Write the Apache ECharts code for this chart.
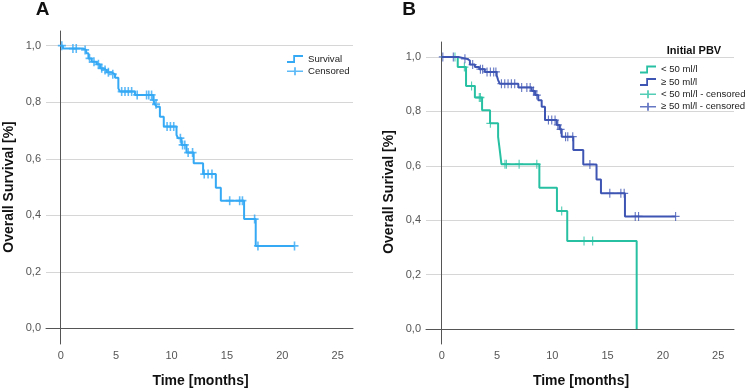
<!DOCTYPE html>
<html>
<head>
<meta charset="utf-8">
<script src="https://cdn.jsdelivr.net/npm/echarts@6/dist/echarts.min.js"></script>
<style>
  html, body { margin: 0; padding: 0; background: #fff; }
  #main { width: 749px; height: 391px; }
</style>
</head>
<body>
<div id="main"></div>
<script>
// panel A - whole cohort (time in months, survival after each step)
var aTime = [0, 0.2, 2.0, 2.3, 2.5, 2.8, 3.25, 3.55, 3.85, 4.15, 4.6, 4.9, 5.2, 5.35, 6.7, 8.35, 8.5, 8.65, 8.95, 9.3, 10.45, 10.6, 10.9, 11.35, 12.0, 12.85, 14.0, 14.45, 16.55, 17.6];
var aSurv = [1.0, 0.99, 0.985, 0.973, 0.955, 0.943, 0.934, 0.92, 0.914, 0.906, 0.899, 0.887, 0.849, 0.838, 0.826, 0.808, 0.793, 0.784, 0.749, 0.714, 0.684, 0.673, 0.649, 0.622, 0.584, 0.546, 0.498, 0.452, 0.387, 0.292];
var aEnd = 21.1;
var aCensor = [0.1, 1.1, 1.4, 2.2, 2.6, 3.0, 3.4, 3.7, 4.0, 4.3, 4.7, 5.5, 5.8, 6.1, 6.4, 6.9, 7.75, 7.95, 8.2, 8.4, 8.6, 9.6, 9.9, 10.2, 10.8, 11.0, 11.2, 11.5, 11.9, 12.95, 13.3, 13.65, 15.25, 16.15, 16.4, 17.5, 17.8, 21.1];

// panel B - initial PBV < 50 ml/l
var lowTime = [0, 1.45, 2.2, 3.0, 3.65, 4.37, 5.1, 5.25, 5.4, 8.83, 10.42, 11.35, 17.63];
var lowSurv = [1.0, 0.963, 0.893, 0.851, 0.804, 0.756, 0.706, 0.658, 0.606, 0.519, 0.434, 0.324, 0];
var lowEnd = 17.63;
var lowCensor = [1.2, 2.05, 2.7, 3.4, 3.5, 4.4, 5.72, 5.85, 7.0, 8.6, 10.85, 12.87, 13.65];

// panel B - initial PBV >= 50 ml/l
var highTime = [0, 1.5, 2.3, 2.55, 3.0, 3.4, 3.9, 4.97, 5.1, 5.25, 6.93, 8.14, 8.44, 8.73, 9.04, 9.34, 10.4, 10.65, 10.85, 11.9, 12.8, 14.0, 14.4, 16.57];
var highSurv = [1.0, 0.993, 0.987, 0.972, 0.963, 0.955, 0.945, 0.933, 0.915, 0.902, 0.888, 0.875, 0.86, 0.841, 0.817, 0.768, 0.75, 0.734, 0.707, 0.658, 0.605, 0.55, 0.499, 0.414];
var highEnd = 21.15;
var highCensor = [0.1, 1.05, 2.1, 2.8, 3.5, 3.7, 4.1, 4.4, 4.7, 4.9, 5.4, 5.7, 6.0, 6.3, 6.6, 7.23, 7.7, 8.0, 8.3, 8.6, 9.65, 9.95, 10.25, 10.5, 10.75, 11.2, 11.4, 11.85, 13.4, 15.2, 16.2, 16.5, 17.5, 17.8, 21.15];

var xTicks = [0, 5, 10, 15, 20, 25];
var yTicks = [0, 0.2, 0.4, 0.6, 0.8, 1.0];

var colA = '#36a9f5';
var colLow = '#28c0a3';
var colHigh = '#3e55b3';

// step line points, last point just extends the line
function stepData(times, surv, end) {
  var d = times.map(function(t, i) { return [t, surv[i]]; });
  d.push([end, surv[surv.length - 1]]);
  return d;
}
// put the censor marks on the curve
function censorData(times, surv, cens) {
  return cens.map(function(c) {
    var v = surv[0];
    for (var i = 0; i < times.length; i++) {
      if (times[i] <= c) v = surv[i];
    }
    return [c, v];
  });
}

var plusThick = 'path://M4,0H6V10H4ZM0,4H10V6H0Z';
var plusThin = 'path://M4.3,0H5.7V10H4.3ZM0,4.3H10V5.7H0Z';
var stepIcon = 'path://M0,6H7V0H18V2H9V8H0Z';
var censIcon = 'path://M0,4H8V0H10V4H18V6H10V10H8V6H0Z';

function xAxisCfg(idx, min, max) {
  return {
    type: 'value', gridIndex: idx, min: min, max: max,
    axisLine: { show: true, lineStyle: { color: '#555', width: 1 } },
    axisTick: { show: false, customValues: xTicks },
    axisLabel: { customValues: xTicks, color: '#555', fontSize: 11, margin: 6, fontFamily: 'Liberation Sans' },
    splitLine: { show: false }
  };
}
function yAxisCfg(idx, min, max) {
  return {
    type: 'value', gridIndex: idx, min: min, max: max,
    axisLine: { show: true, lineStyle: { color: '#555', width: 1 } },
    axisTick: { show: false, customValues: yTicks },
    axisLabel: {
      customValues: yTicks, color: '#555', fontSize: 11, margin: 5, fontFamily: 'Liberation Sans',
      formatter: function(v) { return v.toFixed(1).replace('.', ','); }
    },
    splitLine: { show: true, lineStyle: { color: '#d6d6d6', width: 1 } }
  };
}

function txt(x, y, s, font, rot) {
  return {
    type: 'text', x: x, y: y, rotation: rot || 0,
    style: { text: s, font: font, fill: '#111', textAlign: 'center', textVerticalAlign: 'middle' }
  };
}

var legendText = { fontSize: 9.6, color: '#222', fontFamily: 'Liberation Sans' };

var chart = echarts.init(document.getElementById('main'));
chart.setOption({
  animation: false,
  grid: [
    { left: 46, top: 31, width: 307, height: 313 },
    { left: 426, top: 42, width: 308, height: 302 }
  ],
  xAxis: [xAxisCfg(0, -1.33, 26.38), xAxisCfg(1, -1.42, 26.43)],
  yAxis: [yAxisCfg(0, -0.055, 1.052), yAxisCfg(1, -0.055, 1.055)],
  legend: [
    {
      orient: 'vertical', left: 287, top: 54, padding: 0,
      itemWidth: 16, itemHeight: 8, itemGap: 2.2,
      symbolKeepAspect: false, textStyle: legendText,
      data: [{ name: 'Survival', icon: stepIcon }, { name: 'Censored', icon: censIcon }]
    },
    {
      orient: 'vertical', left: 640, top: 64.5, padding: 0,
      itemWidth: 16, itemHeight: 8, itemGap: 2.4,
      symbolKeepAspect: false, textStyle: legendText,
      data: [
        { name: '< 50 ml/l', icon: stepIcon },
        { name: '≥ 50 ml/l', icon: stepIcon },
        { name: '< 50 ml/l - censored', icon: censIcon },
        { name: '≥ 50 ml/l - censored', icon: censIcon }
      ]
    }
  ],
  graphic: [
    txt(42.5, 10, 'A', 'bold 19px Liberation Sans'),
    txt(409, 10, 'B', 'bold 19px Liberation Sans'),
    txt(9.5, 187, 'Overall Survival [%]', 'bold 14px Liberation Sans', Math.PI / 2),
    txt(389, 192, 'Overall Surival [%]', 'bold 14px Liberation Sans', Math.PI / 2),
    txt(200.5, 381, 'Time [months]', 'bold 14px Liberation Sans'),
    txt(581, 381, 'Time [months]', 'bold 14px Liberation Sans'),
    txt(694, 51, 'Initial PBV', 'bold 11px Liberation Sans')
  ],
  series: [
    {
      name: 'Survival', type: 'line', xAxisIndex: 0, yAxisIndex: 0, step: 'end',
      showSymbol: false, color: colA, lineStyle: { width: 2, color: colA },
      data: stepData(aTime, aSurv, aEnd)
    },
    {
      name: 'Censored', type: 'scatter', xAxisIndex: 0, yAxisIndex: 0,
      symbol: plusThick, symbolSize: [8, 9], itemStyle: { color: colA },
      data: censorData(aTime, aSurv, aCensor)
    },
    {
      name: '< 50 ml/l', type: 'line', xAxisIndex: 1, yAxisIndex: 1, step: 'end',
      showSymbol: false, color: colLow, lineStyle: { width: 2, color: colLow },
      data: stepData(lowTime, lowSurv, lowEnd)
    },
    {
      name: '≥ 50 ml/l', type: 'line', xAxisIndex: 1, yAxisIndex: 1, step: 'end',
      showSymbol: false, color: colHigh, lineStyle: { width: 2, color: colHigh },
      data: stepData(highTime, highSurv, highEnd)
    },
    {
      name: '< 50 ml/l - censored', type: 'scatter', xAxisIndex: 1, yAxisIndex: 1,
      symbol: plusThin, symbolSize: [8, 9], itemStyle: { color: colLow },
      data: censorData(lowTime, lowSurv, lowCensor)
    },
    {
      name: '≥ 50 ml/l - censored', type: 'scatter', xAxisIndex: 1, yAxisIndex: 1,
      symbol: plusThin, symbolSize: [8, 9], itemStyle: { color: colHigh },
      data: censorData(highTime, highSurv, highCensor)
    }
  ]
});
</script>
</body>
</html>
